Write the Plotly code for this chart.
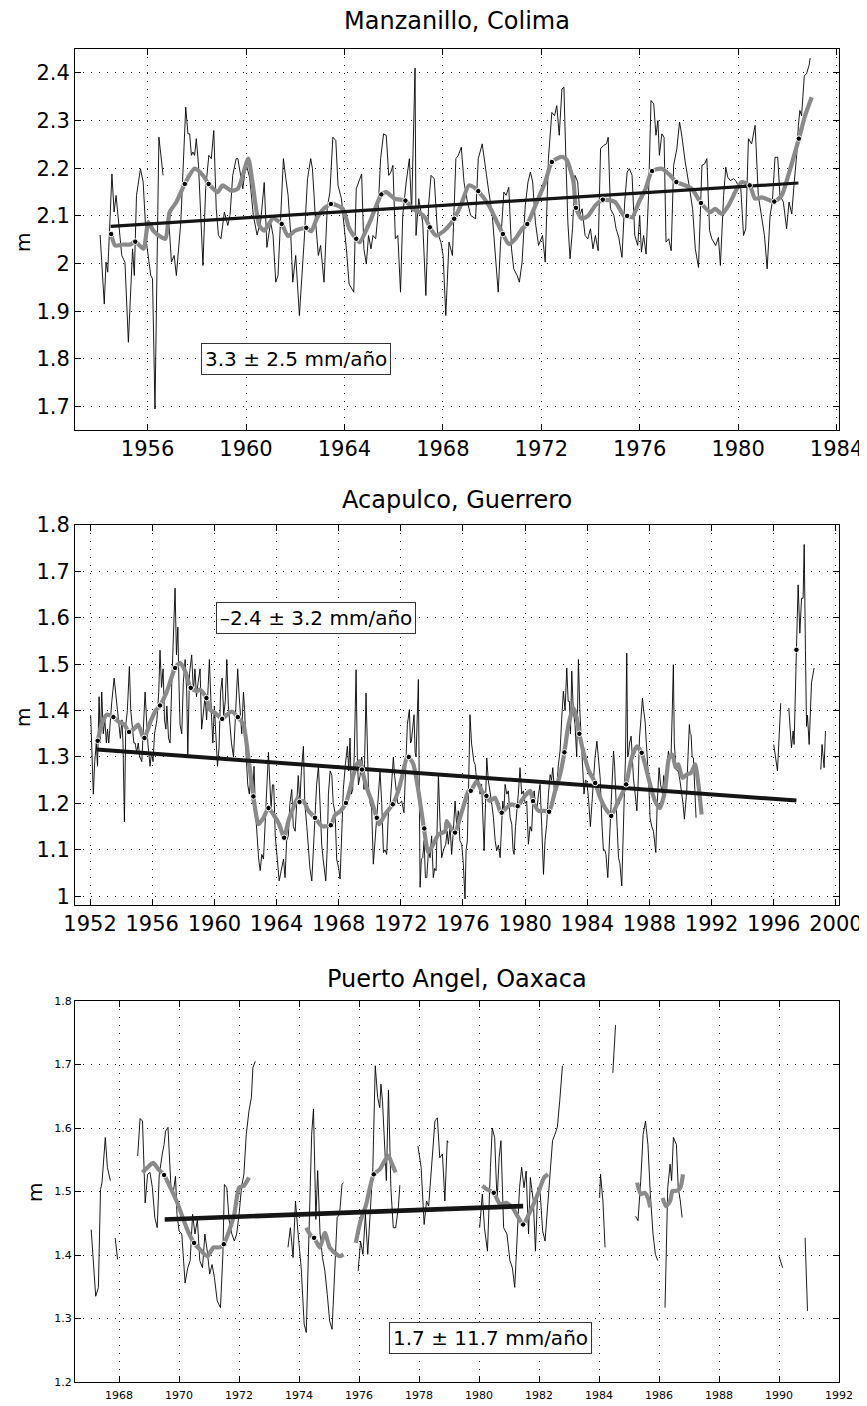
import plotly.graph_objects as go

# ---------------- Manzanillo, Colima ----------------
man_year = [1954.07, 1954.24, 1954.31, 1954.38, 1954.55, 1954.64, 1954.72, 1954.80, 1954.95, 1955.08,
            1955.22, 1955.39, 1955.46, 1955.55, 1955.71, 1955.82, 1955.95, 1956.13, 1956.20, 1956.30,
            1956.39, 1956.46, 1956.63, 1956.74, 1956.84, 1956.97, 1957.08, 1957.17, 1957.35, 1957.44,
            1957.55, 1957.64, 1957.71, 1957.78, 1957.84, 1957.91, 1957.98, 1958.07, 1958.15, 1958.25,
            1958.36, 1958.49, 1958.59, 1958.69, 1958.79, 1958.88, 1958.98, 1959.12, 1959.26, 1959.35,
            1959.46, 1959.60, 1959.67, 1959.76, 1959.87, 1960.00, 1960.15, 1960.30, 1960.45, 1960.60,
            1960.74, 1960.85, 1961.00, 1961.10, 1961.21, 1961.30, 1961.41, 1961.52, 1961.62, 1961.71,
            1961.82, 1961.90, 1962.02, 1962.17, 1962.36, 1962.50, 1962.63, 1962.70, 1962.83, 1962.94,
            1963.03, 1963.17, 1963.30, 1963.41, 1963.53, 1963.65, 1963.74, 1963.88, 1963.97, 1964.08,
            1964.19, 1964.28, 1964.38, 1964.48, 1964.59, 1964.70, 1964.79, 1964.89, 1964.98, 1965.08,
            1965.16, 1965.27, 1965.36, 1965.47, 1965.59, 1965.70, 1965.80, 1965.89, 1965.97, 1966.07,
            1966.17, 1966.28, 1966.37, 1966.51, 1966.64, 1966.73, 1966.87, 1966.91, 1967.02, 1967.18,
            1967.31, 1967.42, 1967.52, 1967.65, 1967.78, 1967.92, 1968.01, 1968.12, 1968.25, 1968.39,
            1968.53, 1968.63, 1968.75, 1968.86, 1969.00, 1969.13, 1969.33, 1969.44, 1969.60, 1969.71,
            1969.85, 1970.01, 1970.14, 1970.25, 1970.34, 1970.48, 1970.57, 1970.68, 1970.79, 1970.88,
            1971.02, 1971.11, 1971.22, 1971.35, 1971.46, 1971.56, 1971.65, 1971.76, 1971.89, 1972.05,
            1972.16, 1972.29, 1972.43, 1972.54, 1972.63, 1972.73, 1972.84, 1972.92, 1973.00, 1973.08,
            1973.17, 1973.27, 1973.37, 1973.48, 1973.57, 1973.66, 1973.78, 1973.89, 1974.00, 1974.10,
            1974.20, 1974.31, 1974.41, 1974.54, 1974.65, 1974.72, 1974.81, 1974.95, 1975.04, 1975.15,
            1975.28, 1975.39, 1975.49, 1975.58, 1975.69, 1975.80, 1975.92, 1976.00, 1976.07, 1976.16,
            1976.26, 1976.36, 1976.46, 1976.57, 1976.66, 1976.74, 1976.80, 1976.90, 1976.99, 1977.07,
            1977.18, 1977.28, 1977.38, 1977.51, 1977.62, 1977.72, 1977.85, 1977.95, 1978.03, 1978.15,
            1978.26, 1978.39, 1978.53, 1978.64, 1978.73, 1978.84, 1978.93, 1979.09, 1979.20, 1979.28,
            1979.41, 1979.50, 1979.58, 1979.69, 1979.81, 1979.90, 1980.00, 1980.11, 1980.22, 1980.31,
            1980.42, 1980.55, 1980.69, 1980.82, 1980.96, 1981.07, 1981.18, 1981.30, 1981.39, 1981.50,
            1981.61, 1981.70, 1981.84, 1981.97, 1982.07, 1982.18, 1982.28, 1982.38, 1982.45, 1982.51,
            1982.58, 1982.69, 1982.78, 1982.88, 1982.93]
man_level = [2.060, 1.915, 2.003, 1.982, 2.188, 2.108, 2.143, 2.101, 2.017, 2.003,
             1.835, 2.031, 1.975, 2.143, 2.199, 2.171, 2.045, 1.975, 1.968, 1.695,
             2.017, 2.265, 2.185, None, 2.108, 2.003, 2.017, 1.975, 2.087, 2.185,
             2.328, 2.272, 2.272, 2.227, 2.234, 2.227, 2.262, 2.206, 2.101, 1.996,
             2.157, 2.227, 2.220, 2.279, 2.115, 2.059, 2.052, 2.108, 2.080, 2.101,
             2.185, 2.220, 2.220, 2.192, 2.157, 2.210, 2.180, 2.100, 2.060, 2.090,
             2.170, 2.034, 2.087, 2.059, 1.961, 1.975, 2.087, 2.220, 2.178, 2.143,
             2.059, 1.961, 2.017, 1.891, 2.045, 2.178, 2.220, 2.199, 2.087, 2.017,
             2.038, 1.961, 2.115, 2.150, 2.265, 2.258, 2.164, 2.136, 2.087, 2.031,
             1.957, 1.950, 1.940, 2.157, 2.171, 2.188, 2.031, 1.999, 2.059, 2.031,
             2.059, 2.052, 2.101, 2.220, 2.272, 2.269, 2.185, 2.192, 2.206, 2.052,
             2.059, 1.940, 2.101, 2.171, 2.220, 2.108, 2.410, 2.059, 2.136, 2.087,
             1.933, 2.122, 2.185, 2.178, 2.066, 2.045, 2.017, 1.891, 2.045, 2.017,
             2.220, 2.227, 2.244, 2.171, 2.129, 2.101, 2.094, 2.220, 2.251, 2.206,
             2.157, 2.101, 2.017, 1.940, 2.038, 2.150, 2.143, 2.160, 2.031, 1.989,
             1.975, 1.961, 2.003, 2.122, 2.171, 2.192, 2.171, 2.087, 2.038, 2.059,
             2.003, 2.220, 2.317, 2.310, 2.331, 2.269, 2.366, 2.370, 2.220, 2.087,
             2.010, 2.073, 2.185, 2.171, 2.101, 2.115, 2.059, 2.052, 2.073, 2.031,
             2.059, 2.027, 2.241, 2.248, 2.251, 2.265, 2.115, 2.101, 2.073, 2.055,
             2.013, 2.129, 2.192, 2.199, 2.185, 2.059, 2.038, 2.101, 2.024, 2.059,
             2.020, 2.143, 2.342, 2.335, 2.269, 2.300, 2.227, 2.272, 2.265, 2.045,
             2.052, 2.027, 2.206, 2.241, 2.297, 2.265, 2.213, 2.185, 2.157, 2.115,
             2.031, 1.992, 2.206, 2.209, 2.220, 2.069, 2.052, 2.038, 2.055, 1.996,
             2.143, 2.202, 2.181, 2.174, 2.178, 2.174, 2.164, 2.157, 2.059, 2.073,
             2.262, 2.251, 2.290, 2.143, 2.101, 2.059, 1.989, 2.101, 2.129, 2.223,
             2.223, 2.143, 2.129, 2.073, 2.129, 2.104, 2.171, 2.227, 2.290, 2.321,
             2.310, 2.394, 2.398, 2.415, 2.431]
man_smooth_year = [1954.52, 1954.68, 1955.00, 1955.30, 1955.50, 1955.83, 1956.03, 1956.23, 1956.57, 1956.73,
                   1956.90, 1957.17, 1957.51, 1957.91, 1958.25, 1958.48, 1958.85, 1959.05, 1959.40, 1959.67,
                   1960.09, 1960.26, 1960.54, 1960.74, 1961.10, 1961.45, 1961.70, 1962.00, 1962.45, 1962.65,
                   1962.90, 1963.20, 1963.50, 1963.93, 1964.20, 1964.48, 1964.62, 1965.03, 1965.30, 1965.50,
                   1965.70, 1966.04, 1966.48, 1966.77, 1967.04, 1967.31, 1967.47, 1967.72, 1968.06, 1968.26,
                   1968.46, 1968.73, 1969.06, 1969.26, 1969.44, 1969.87, 1970.20, 1970.44, 1970.68, 1970.95,
                   1971.22, 1971.43, 1971.82, 1972.16, 1972.43, 1972.84, 1973.04, 1973.31, 1973.41, 1973.64,
                   1973.90, 1974.20, 1974.50, 1975.00, 1975.35, 1975.49, 1975.70, 1975.97, 1976.24, 1976.50,
                   1976.90, 1977.24, 1977.49, 1977.85, 1978.12, 1978.49, 1978.87, 1979.07, 1979.34, 1979.61,
                   1979.95, 1980.15, 1980.47, 1980.69, 1980.96, 1981.47, 1981.77, 1982.04, 1982.47, 1982.72,
                   1982.99]
man_smooth = [2.062, 2.038, 2.040, 2.040, 2.046, 2.031, 2.087, 2.069, 2.055, 2.052,
              2.108, 2.129, 2.167, 2.199, 2.185, 2.167, 2.150, 2.164, 2.153, 2.157,
              2.220, 2.171, 2.080, 2.069, 2.095, 2.083, 2.058, 2.069, 2.075, 2.068,
              2.097, 2.117, 2.125, 2.115, 2.073, 2.052, 2.045, 2.087, 2.122, 2.145,
              2.150, 2.136, 2.132, 2.115, 2.108, 2.094, 2.076, 2.059, 2.069, 2.080,
              2.094, 2.122, 2.164, 2.160, 2.152, 2.122, 2.087, 2.062, 2.041, 2.052,
              2.073, 2.083, 2.129, 2.171, 2.213, 2.224, 2.217, 2.171, 2.117, 2.094,
              2.100, 2.122, 2.134, 2.129, 2.101, 2.100, 2.097, 2.129, 2.157, 2.194,
              2.199, 2.185, 2.171, 2.164, 2.157, 2.127, 2.108, 2.115, 2.104, 2.122,
              2.157, 2.171, 2.164, 2.136, 2.139, 2.130, 2.143, 2.185, 2.262, 2.310,
              2.349]
man_dot_year = [1954.52, 1955.50, 1957.51, 1958.48, 1961.45, 1962.45, 1963.45, 1964.48, 1965.50, 1966.48,
                1967.47, 1968.46, 1969.44, 1970.44, 1971.43, 1972.43, 1973.41, 1974.50, 1975.49, 1976.50,
                1977.49, 1978.49, 1980.47, 1981.47, 1982.47]
man_dot = [2.062, 2.046, 2.167, 2.167, 2.083, 2.075, 2.125, 2.052, 2.145, 2.132,
           2.076, 2.094, 2.152, 2.062, 2.083, 2.213, 2.117, 2.134, 2.100, 2.194,
           2.171, 2.127, 2.164, 2.130, 2.262]
man_trend_year = [1954.50, 1982.45]
man_trend = [2.078, 2.169]
man_xticks = [1956, 1960, 1964, 1968, 1972, 1976, 1980, 1984]
man_yticks = [1.7, 1.8, 1.9, 2.0, 2.1, 2.2, 2.3, 2.4]
man_ylabels = ["1.7", "1.8", "1.9", "2", "2.1", "2.2", "2.3", "2.4"]

# ---------------- Acapulco, Guerrero ----------------
aca_year = [1952.04, 1952.12, 1952.21, 1952.30, 1952.40, 1952.48, 1952.58, 1952.66, 1952.75, 1952.85,
            1952.95, 1953.05, 1953.12, 1953.20, 1953.30, 1953.40, 1953.55, 1953.65, 1953.75, 1953.85,
            1953.95, 1954.05, 1954.12, 1954.21, 1954.30, 1954.40, 1954.53, 1954.62, 1954.72, 1954.82,
            1954.90, 1955.00, 1955.10, 1955.20, 1955.33, 1955.45, 1955.54, 1955.62, 1955.72, 1955.86,
            1955.95, 1956.05, 1956.15, 1956.30, 1956.42, 1956.50, 1956.60, 1956.70, 1956.79, 1956.88,
            1956.94, 1957.05, 1957.15, 1957.25, 1957.35, 1957.47, 1957.56, 1957.65, 1957.72, 1957.79,
            1957.90, 1958.00, 1958.12, 1958.22, 1958.29, 1958.40, 1958.54, 1958.65, 1958.75, 1958.85,
            1958.95, 1959.08, 1959.18, 1959.30, 1959.40, 1959.50, 1959.60, 1959.68, 1959.80, 1959.90,
            1960.00, 1960.10, 1960.20, 1960.30, 1960.40, 1960.50, 1960.60, 1960.70, 1960.80, 1960.90,
            1961.00, 1961.10, 1961.23, 1961.35, 1961.50, 1961.58, 1961.65, 1961.76, 1961.87, 1961.95,
            1962.05, 1962.15, 1962.25, 1962.35, 1962.45, 1962.55, 1962.65, 1962.75, 1962.85, 1962.95,
            1963.05, 1963.16, 1963.28, 1963.38, 1963.48, 1963.56, 1963.65, 1963.74, 1963.82, 1963.92,
            1964.00, 1964.10, 1964.17, 1964.27, 1964.34, 1964.45, 1964.55, 1964.65, 1964.76, 1964.86,
            1964.98, 1965.08, 1965.20, 1965.30, 1965.40, 1965.50, 1965.60, 1965.73, 1965.82, 1965.95,
            1966.05, 1966.15, 1966.27, 1966.37, 1966.48, 1966.58, 1966.70, 1966.80, 1966.91, 1967.00,
            1967.08, 1967.17, 1967.26, 1967.34, 1967.45, 1967.56, 1967.65, 1967.77, 1967.87, 1968.00,
            1968.09, 1968.20, 1968.30, 1968.42, 1968.56, 1968.65, 1968.73, 1968.82, 1968.90, 1969.00,
            1969.12, 1969.20, 1969.27, 1969.38, 1969.48, 1969.56, 1969.63, 1969.76, 1969.84, 1969.91,
            1970.02, 1970.12, 1970.23, 1970.34, 1970.45, 1970.56, 1970.66, 1970.77, 1970.88, 1970.98,
            1971.09, 1971.20, 1971.30, 1971.42, 1971.52, 1971.60, 1971.69, 1971.80, 1971.91, 1972.06,
            1972.20, 1972.32, 1972.42, 1972.55, 1972.62, 1972.68, 1972.76, 1972.85, 1972.92, 1972.98,
            1973.13, 1973.24, 1973.32, 1973.41, 1973.50, 1973.58, 1973.67, 1973.78, 1973.88, 1973.98,
            1974.09, 1974.18, 1974.27, 1974.35, 1974.42, 1974.52, 1974.63, 1974.75, 1974.89, 1974.98,
            1975.06, 1975.17, 1975.27, 1975.38, 1975.49, 1975.60, 1975.70, 1975.80, 1975.92, 1976.02,
            1976.13, 1976.20, 1976.28, 1976.37, 1976.45, 1976.55, 1976.63, 1976.70, 1976.78, 1976.88,
            1976.99, 1977.10, 1977.20, 1977.28, 1977.36, 1977.45, 1977.53, 1977.63, 1977.74, 1977.85,
            1977.96, 1978.07, 1978.17, 1978.28, 1978.39, 1978.47, 1978.56, 1978.63, 1978.71, 1978.82,
            1978.92, 1979.03, 1979.14, 1979.22, 1979.29, 1979.38, 1979.46, 1979.56, 1979.67, 1979.78,
            1979.89, 1980.00, 1980.10, 1980.21, 1980.32, 1980.42, 1980.50, 1980.58, 1980.66, 1980.75,
            1980.86, 1980.96, 1981.07, 1981.18, 1981.28, 1981.39, 1981.50, 1981.61, 1981.70, 1981.78,
            1981.90, 1982.03, 1982.13, 1982.25, 1982.35, 1982.46, 1982.57, 1982.68, 1982.77, 1982.85,
            1982.92, 1983.00, 1983.10, 1983.21, 1983.32, 1983.43, 1983.52, 1983.58, 1983.68, 1983.79,
            1983.88, 1983.97, 1984.08, 1984.20, 1984.30, 1984.40, 1984.50, 1984.62, 1984.72, 1984.83,
            1984.95, 1985.04, 1985.12, 1985.20, 1985.32, 1985.40, 1985.47, 1985.58, 1985.69, 1985.76,
            1985.84, 1985.92, 1986.01, 1986.10, 1986.22, 1986.30, 1986.39, 1986.46, 1986.54, 1986.60,
            1986.65, 1986.72, 1986.82, 1986.90, 1986.97, 1987.08, 1987.19, 1987.28, 1987.36, 1987.45,
            1987.55, 1987.63, 1987.72, 1987.80, 1987.87, 1987.95, 1988.04, 1988.15, 1988.26, 1988.34,
            1988.41, 1988.50, 1988.62, 1988.72, 1988.84, 1988.92, 1989.01, 1989.10, 1989.22, 1989.30,
            1989.39, 1989.47, 1989.54, 1989.60, 1989.69, 1989.78, 1989.86, 1989.96, 1990.07, 1990.16,
            1990.25, 1990.32, 1990.40, 1990.48, 1990.57, 1990.62, 1990.68, 1990.75, 1990.83, 1990.92,
            1991.00, 1993.50, 1996.00, 1996.24, 1996.45, 1996.70, 1996.97, 1997.14, 1997.25, 1997.31,
            1997.46, 1997.57, 1997.68, 1997.79, 1997.89, 1997.96, 1998.04, 1998.11, 1998.17, 1998.28,
            1998.43, 1998.60, 1998.80, 1999.03, 1999.11, 1999.24, 1999.33]
aca_level = [1.39, 1.30, 1.22, 1.29, 1.33, 1.28, 1.43, 1.33, 1.44, 1.35,
             1.38, 1.33, 1.36, 1.33, 1.38, 1.42, 1.47, 1.44, 1.40, 1.37,
             1.34, 1.38, 1.33, 1.16, 1.37, 1.40, 1.495, 1.40, 1.36, 1.33,
             1.33, 1.31, 1.33, 1.30, 1.29, 1.36, 1.44, 1.39, 1.33, 1.28,
             1.31, 1.29, 1.35, 1.38, 1.44, 1.53, 1.45, 1.49, 1.38, 1.36,
             1.41, 1.34, 1.33, 1.45, 1.53, 1.664, 1.52, 1.58, 1.46, 1.37,
             1.35, 1.46, 1.51, 1.44, 1.305, 1.48, 1.52, 1.44, 1.49, 1.43,
             1.46, 1.49, 1.36, 1.40, 1.43, 1.38, 1.46, 1.51, 1.40, 1.33,
             1.41, 1.35, 1.28, 1.32, 1.44, 1.47, 1.39, 1.42, 1.51, 1.41,
             1.36, 1.33, 1.30, 1.38, 1.49, 1.44, 1.40, 1.35, 1.44, 1.40,
             1.30, 1.24, 1.22, 1.26, 1.20, 1.28, 1.18, 1.12, 1.08, 1.055,
             1.09, 1.08, 1.16, 1.22, 1.31, 1.25, 1.19, 1.24, 1.24, 1.13,
             1.10, 1.06, 1.033, 1.05, 1.06, 1.08, 1.04, 1.12, 1.13, 1.20,
             1.23, 1.15, 1.14, 1.20, 1.26, 1.20, 1.27, 1.323, 1.20, 1.15,
             1.10, 1.06, 1.033, 1.10, 1.18, 1.24, 1.28, 1.20, 1.11, 1.08,
             1.05, 1.033, 1.10, 1.22, 1.27, 1.26, 1.20, 1.18, 1.08, 1.06,
             1.037, 1.15, 1.23, 1.28, 1.323, 1.27, 1.341, 1.22, 1.23, 1.30,
             1.488, 1.30, 1.24, 1.26, 1.30, 1.28, 1.23, 1.438, 1.30, 1.24,
             1.20, 1.19, 1.069, 1.12, 1.15, 1.22, 1.27, 1.20, 1.094, 1.10,
             1.09, 1.18, 1.19, 1.25, 1.30, 1.26, 1.23, 1.20, 1.20, 1.205,
             1.18, 1.30, 1.37, 1.402, 1.33, 1.334, 1.36, 1.391, 1.31, 1.30,
             1.467, 1.019, 1.08, 1.083, 1.12, 1.04, 1.04, 1.10, 1.083, 1.13,
             1.04, 1.06, 1.055, 1.15, 1.262, 1.16, 1.083, 1.10, 1.112, 1.14,
             1.112, 1.15, 1.09, 1.14, 1.205, 1.15, 1.184, 1.12, 1.112, 1.07,
             0.994, 1.10, 1.119, 1.25, 1.391, 1.33, 1.313, 1.29, 1.284, 1.25,
             1.255, 1.22, 1.241, 1.15, 1.098, 1.20, 1.298, 1.25, 1.227, 1.20,
             1.169, 1.12, 1.098, 1.11, 1.083, 1.15, 1.205, 1.18, 1.241, 1.22,
             1.227, 1.17, 1.155, 1.10, 1.09, 1.15, 1.176, 1.22, 1.277, 1.22,
             1.227, 1.20, 1.205, 1.112, 1.15, 1.14, 1.20, 1.227, 1.20, 1.184,
             1.22, 1.241, 1.15, 1.047, 1.12, 1.155, 1.22, 1.262, 1.25, 1.277,
             1.22, 1.227, 1.28, 1.313, 1.38, 1.442, 1.40, 1.492, 1.42, 1.42,
             1.35, 1.485, 1.40, 1.37, 1.30, 1.51, 1.40, 1.356, 1.30, 1.22,
             1.25, 1.248, 1.21, 1.15, 1.20, 1.25, 1.30, 1.334, 1.30, 1.255,
             1.15, 1.098, 1.10, 1.09, 1.04, 1.10, 1.169, 1.25, 1.313, 1.28,
             1.227, 1.15, 1.083, 1.07, 1.022, 1.15, 1.227, 1.30, 1.524, 1.30,
             1.305, 1.33, 1.345, 1.30, 1.255, 1.22, 1.184, 1.25, 1.341, 1.38,
             1.427, 1.40, 1.377, 1.33, 1.298, 1.25, 1.169, 1.15, 1.14, 1.12,
             1.094, 1.20, 1.277, 1.24, 1.22, 1.26, 1.241, 1.26, 1.313, 1.30,
             1.298, 1.40, 1.499, 1.33, 1.284, 1.27, 1.27, 1.25, 1.227, 1.20,
             1.166, 1.20, 1.227, 1.30, 1.37, 1.35, 1.348, 1.30, 1.298, 1.23,
             1.169, None, 1.327, 1.27, 1.416, None, 1.406, 1.32, 1.356, 1.327,
             1.531, 1.671, 1.567, 1.642, 1.642, 1.758, 1.53, 1.366, 1.39, 1.327,
             1.46, 1.492, None, 1.273, 1.327, 1.277, 1.356]
aca_smooth_year = [1952.49, 1952.75, 1953.07, 1953.50, 1953.80, 1954.20, 1954.51, 1954.90, 1955.10, 1955.43,
                   1955.50, 1955.90, 1956.20, 1956.50, 1956.94, 1957.47, 1957.79, 1958.12, 1958.48, 1958.87,
                   1959.08, 1959.49, 1959.72, 1960.05, 1960.50, 1960.80, 1961.12, 1961.51, 1961.87, 1962.19,
                   1962.51, 1962.84, 1963.16, 1963.48, 1963.80, 1964.17, 1964.49, 1964.76, 1965.08, 1965.36,
                   1965.48, 1965.73, 1966.05, 1966.48, 1966.91, 1967.49, 1967.77, 1968.10, 1968.47, 1968.85,
                   1969.16, 1969.37, 1969.50, 1969.80, 1970.12, 1970.45, 1970.62, 1970.98, 1971.48, 1971.84,
                   1972.06, 1972.38, 1972.51, 1972.81, 1973.13, 1973.45, 1973.77, 1974.09, 1974.42, 1974.85,
                   1974.95, 1975.20, 1975.49, 1975.81, 1976.13, 1976.35, 1976.50, 1976.89, 1977.20, 1977.51,
                   1977.74, 1978.06, 1978.38, 1978.49, 1978.81, 1979.14, 1979.52, 1979.89, 1980.32, 1980.51,
                   1980.85, 1981.28, 1981.54, 1981.93, 1982.25, 1982.53, 1982.79, 1983.11, 1983.32, 1983.49,
                   1983.85, 1984.10, 1984.51, 1984.83, 1985.15, 1985.47, 1985.54, 1986.01, 1986.33, 1986.50,
                   1986.86, 1987.19, 1987.50, 1987.72, 1988.04, 1988.36, 1988.68, 1989.00, 1989.26, 1989.48,
                   1989.69, 1989.86, 1990.12, 1990.40, 1990.68, 1990.94, 1991.15, 1991.36]
aca_smooth = [1.335, 1.370, 1.391, 1.386, 1.377, 1.370, 1.354, 1.363, 1.370, 1.341,
              1.341, 1.377, 1.399, 1.411, 1.441, 1.492, 1.503, 1.485, 1.449, 1.442,
              1.445, 1.427, 1.402, 1.395, 1.382, 1.391, 1.398, 1.386, 1.370, 1.298,
              1.215, 1.155, 1.169, 1.190, 1.176, 1.155, 1.126, 1.162, 1.191, 1.212,
              1.203, 1.205, 1.184, 1.169, 1.151, 1.153, 1.175, 1.183, 1.201, 1.248,
              1.284, 1.291, 1.273, 1.234, 1.205, 1.169, 1.155, 1.176, 1.198, 1.227,
              1.255, 1.298, 1.300, 1.284, 1.227, 1.155, 1.095, 1.112, 1.133, 1.140,
              1.162, 1.148, 1.137, 1.169, 1.205, 1.227, 1.227, 1.248, 1.227, 1.216,
              1.205, 1.212, 1.184, 1.180, 1.191, 1.198, 1.194, 1.212, 1.227, 1.205,
              1.184, 1.184, 1.182, 1.227, 1.262, 1.310, 1.370, 1.406, 1.384, 1.350,
              1.298, 1.270, 1.244, 1.212, 1.190, 1.176, 1.173, 1.205, 1.227, 1.241,
              1.298, 1.323, 1.309, 1.284, 1.241, 1.205, 1.190, 1.227, 1.298, 1.305,
              1.277, 1.284, 1.255, 1.262, 1.266, 1.284, 1.241, 1.176]
aca_dot_year = [1952.49, 1953.50, 1954.51, 1955.50, 1956.50, 1957.47, 1958.48, 1959.49, 1960.50, 1961.51,
                1962.51, 1963.48, 1964.49, 1965.48, 1966.48, 1967.49, 1968.47, 1969.50, 1970.45, 1971.48,
                1972.51, 1973.51, 1975.49, 1976.50, 1977.51, 1978.49, 1979.52, 1980.51, 1981.54, 1982.53,
                1983.49, 1984.51, 1985.54, 1986.50, 1987.50, 1997.46]
aca_dot = [1.335, 1.386, 1.354, 1.341, 1.411, 1.492, 1.449, 1.427, 1.382, 1.386,
           1.215, 1.190, 1.126, 1.203, 1.169, 1.153, 1.201, 1.273, 1.169, 1.198,
           1.300, 1.146, 1.137, 1.227, 1.216, 1.180, 1.194, 1.205, 1.182, 1.310,
           1.350, 1.244, 1.173, 1.241, 1.309, 1.531]
aca_trend_year = [1952.43, 1997.46]
aca_trend = [1.316, 1.206]
aca_xticks = [1952, 1956, 1960, 1964, 1968, 1972, 1976, 1980, 1984, 1988, 1992, 1996, 2000]
aca_yticks = [1.0, 1.1, 1.2, 1.3, 1.4, 1.5, 1.6, 1.7, 1.8]
aca_ylabels = ["1", "1.1", "1.2", "1.3", "1.4", "1.5", "1.6", "1.7", "1.8"]

# ---------------- Puerto Angel, Oaxaca ----------------
pa_year = [1967.07, 1967.22, 1967.31, 1967.38, 1967.43, 1967.54, 1967.61, 1967.71, 1967.79,
           1967.87, 1967.95, 1968.30,
           1968.62, 1968.70, 1968.78, 1968.87, 1968.95, 1969.03, 1969.11, 1969.19, 1969.27, 1969.34,
           1969.44, 1969.50, 1969.55, 1969.63, 1969.73, 1969.80, 1969.88, 1969.93, 1970.00, 1970.09,
           1970.20, 1970.29, 1970.37, 1970.45, 1970.53, 1970.61, 1970.69, 1970.78, 1970.86, 1970.94,
           1971.02, 1971.10, 1971.18, 1971.27, 1971.38, 1971.46, 1971.51, 1971.59, 1971.67, 1971.76,
           1971.84, 1971.92, 1972.00, 1972.08, 1972.16, 1972.24, 1972.33, 1972.41, 1972.46, 1972.54,
           1973.00,
           1973.63, 1973.71, 1973.80, 1973.88, 1973.96, 1974.07, 1974.17, 1974.24, 1974.33, 1974.42,
           1974.48, 1974.56, 1974.62, 1974.70, 1974.78, 1974.86, 1974.94, 1975.02, 1975.10, 1975.18,
           1975.27, 1975.35, 1975.43, 1975.48, 1975.70,
           1975.97, 1976.05, 1976.13, 1976.21, 1976.29, 1976.38, 1976.46, 1976.54, 1976.62, 1976.69,
           1976.73, 1976.78, 1976.85, 1976.91, 1976.98, 1977.06, 1977.14, 1977.22, 1977.31, 1977.36,
           1977.60,
           1977.96, 1978.07, 1978.17, 1978.25, 1978.32, 1978.42, 1978.53, 1978.61, 1978.69, 1978.78,
           1978.86, 1978.94, 1978.97, 1979.50,
           1980.02, 1980.11, 1980.18, 1980.28, 1980.38, 1980.44, 1980.52, 1980.60, 1980.67, 1980.73,
           1980.82, 1980.93, 1981.03, 1981.11, 1981.19, 1981.27, 1981.35, 1981.42, 1981.50, 1981.57,
           1981.65, 1981.71, 1981.81, 1981.88, 1981.96, 1982.04, 1982.12, 1982.20, 1982.29, 1982.37,
           1982.45, 1982.53, 1982.61, 1982.69, 1982.78, 1983.40,
           1984.02, 1984.05, 1984.13, 1984.20, 1984.33,
           1984.46, 1984.55, 1984.90,
           1985.22, 1985.30, 1985.39, 1985.47, 1985.55, 1985.63, 1985.71, 1985.80, 1985.88, 1985.96,
           1986.08,
           1986.20, 1986.29, 1986.37, 1986.42, 1986.48, 1986.58, 1986.64, 1986.71, 1986.77, 1988.00,
           1990.00, 1990.12, 1990.50,
           1990.87, 1990.95]
pa_level = [1.440, 1.335, 1.349, 1.503, 1.514, 1.585, 1.538, 1.517, None,
            1.427, 1.393, None,
            1.556, 1.615, 1.611, 1.482, 1.527, 1.530, 1.506, 1.459, 1.443, 1.527,
            1.559, 1.574, 1.595, 1.601, 1.506, 1.496, 1.524, 1.464, 1.438, 1.433,
            1.356, 1.380, 1.391, 1.464, 1.433, 1.456, 1.391, 1.380, 1.433, 1.406,
            1.370, 1.385, 1.364, 1.328, 1.317, 1.401, 1.511, 1.506, 1.454, 1.433,
            1.422, 1.433, 1.464, 1.506, 1.527, 1.590, 1.627, 1.648, 1.695, 1.705,
            None,
            1.412, 1.443, 1.396, 1.485, 1.438, 1.380, 1.291, 1.278, 1.433, 1.590,
            1.630, 1.456, 1.533, 1.433, 1.396, 1.375, 1.338, 1.296, 1.283, 1.380,
            1.459, 1.464, 1.511, 1.514, None,
            1.375, 1.422, 1.401, 1.464, 1.401, 1.475, 1.538, 1.698, 1.648, 1.632,
            1.669, 1.643, 1.564, 1.517, 1.660, 1.506, 1.443, 1.443, 1.475, 1.510,
            None,
            1.572, 1.538, 1.448, 1.485, 1.477, 1.548, 1.611, 1.616, 1.553, 1.559,
            1.485, 1.580, 1.577, None,
            1.443, 1.496, 1.443, 1.406, 1.538, 1.600, 1.585, 1.485, 1.553, 1.580,
            1.443, 1.433, 1.391, 1.380, 1.349, 1.433, 1.506, 1.538, 1.506, 1.532,
            1.433, 1.522, 1.485, 1.406, 1.506, 1.496, 1.438, 1.422, 1.480, 1.538,
            1.580, 1.590, 1.601, 1.643, 1.698, None,
            1.490, 1.527, 1.485, 1.412, None,
            1.687, 1.762, None,
            1.461, 1.454, 1.517, 1.590, 1.611, 1.574, 1.496, 1.433, 1.401, 1.391,
            None,
            1.317, 1.506, 1.543, 1.517, 1.585, 1.574, 1.506, 1.485, 1.459, None,
            1.398, 1.380, None,
            1.427, 1.312]
pa_smooth_year = [1968.78, 1968.95, 1969.14, 1969.31, 1969.50, 1969.71, 1969.96, 1970.12, 1970.29, 1970.50,
                  1970.69, 1970.94, 1971.15, 1971.35, 1971.49, 1971.67, 1971.84, 1972.00, 1972.16, 1972.33,
                  1973.00,
                  1974.24, 1974.40, 1974.50, 1974.69, 1974.86, 1975.02, 1975.18, 1975.35, 1975.48, 1975.70,
                  1975.89, 1976.05, 1976.24, 1976.36, 1976.49, 1976.69, 1976.85, 1976.98, 1977.10, 1977.22,
                  1978.50,
                  1980.11, 1980.28, 1980.49, 1980.70, 1980.90, 1981.11, 1981.31, 1981.47, 1981.71, 1981.96,
                  1982.17, 1982.30, 1984.00,
                  1985.27, 1985.39, 1985.52, 1985.63, 1985.71, 1985.90,
                  1986.12, 1986.23, 1986.37, 1986.45, 1986.58, 1986.71, 1986.80]
pa_smooth = [1.530, 1.538, 1.545, 1.535, 1.526, 1.506, 1.480, 1.459, 1.438, 1.419,
             1.409, 1.398, 1.412, 1.412, 1.417, 1.438, 1.464, 1.506, 1.509, 1.522,
             None,
             1.443, 1.430, 1.427, 1.412, 1.435, 1.412, 1.404, 1.398, 1.401, None,
             1.419, 1.454, 1.480, 1.506, 1.527, 1.535, 1.548, 1.556, 1.543, 1.530,
             None,
             1.509, 1.503, 1.498, 1.480, 1.482, 1.475, 1.459, 1.448, 1.469, 1.496,
             1.522, 1.527, None,
             1.514, 1.496, 1.498, 1.490, 1.475, None,
             1.490, 1.477, 1.485, 1.501, 1.501, 1.506, 1.527]
pa_dot_year = [1969.50, 1970.50, 1971.49, 1974.50, 1976.49, 1980.49, 1981.47]
pa_dot = [1.526, 1.419, 1.417, 1.427, 1.527, 1.498, 1.448]
pa_trend_year = [1969.52, 1981.47]
pa_trend = [1.456, 1.477]
pa_xticks = [1968, 1970, 1972, 1974, 1976, 1978, 1980, 1982, 1984, 1986, 1988, 1990, 1992]
pa_yticks = [1.2, 1.3, 1.4, 1.5, 1.6, 1.7, 1.8]
pa_ylabels = ["1.2", "1.3", "1.4", "1.5", "1.6", "1.7", "1.8"]

titles = ["Manzanillo, Colima", "Acapulco, Guerrero", "Puerto Angel, Oaxaca"]
rates = ["3.3 ± 2.5 mm/año", "–2.4 ± 3.2 mm/año", "1.7 ± 11.7 mm/año"]

# ---------------- figure ----------------
# The page body has an 8 px margin, so the figure is 8 px smaller than the window
# and every page-pixel position below is shifted by that offset.
OFF = 8
W, H = 867 - OFF, 1406 - OFF
FONT = "DejaVu Sans"
THIN = "#000000"
GREY = "#8a8a8a"

fig = go.Figure()

panels = [
    (man_year, man_level, man_smooth_year, man_smooth, man_dot_year, man_dot, man_trend_year, man_trend, 3.2),
    (aca_year, aca_level, aca_smooth_year, aca_smooth, aca_dot_year, aca_dot, aca_trend_year, aca_trend, 4.0),
    (pa_year, pa_level, pa_smooth_year, pa_smooth, pa_dot_year, pa_dot, pa_trend_year, pa_trend, 4.6),
]
for i, (ty, tv, sy, sv, dy, dv, ry, rv, tw) in enumerate(panels):
    xa = "x" if i == 0 else f"x{i+1}"
    ya = "y" if i == 0 else f"y{i+1}"
    fig.add_trace(go.Scatter(x=ty, y=tv, mode="lines", line=dict(color=THIN, width=0.9),
                             connectgaps=False, xaxis=xa, yaxis=ya, hoverinfo="skip"))
    fig.add_trace(go.Scatter(x=sy, y=sv, mode="lines", line=dict(color=GREY, width=4.2, shape="spline", smoothing=0.6),
                             connectgaps=False, xaxis=xa, yaxis=ya, hoverinfo="skip"))
    fig.add_trace(go.Scatter(x=ry, y=rv, mode="lines", line=dict(color="#151515", width=tw),
                             xaxis=xa, yaxis=ya, hoverinfo="skip"))
    fig.add_trace(go.Scatter(x=dy, y=dv, mode="markers",
                             marker=dict(color="black", size=5.5, line=dict(color="white", width=1)),
                             xaxis=xa, yaxis=ya, hoverinfo="skip"))

def fx(px):
    return (px - OFF) / W

def fy(py):
    return 1 - (py - OFF) / H

def px_dom_x(l, r):
    return [fx(l), fx(r)]

def px_dom_y(t, b):
    return [fy(b), fy(t)]

grid_dash = "1px,7px"

def xaxis(rng, ticks, fsize, anchor, dom, standoff=0):
    return dict(range=rng, tickvals=ticks, ticktext=[str(t) for t in ticks], domain=dom, anchor=anchor,
                showline=True, linecolor="black", linewidth=1, mirror="ticks", ticks="inside",
                ticklen=6, tickcolor="black", showgrid=True, gridcolor="black", gridwidth=1,
                griddash=grid_dash, zeroline=False, automargin=False, ticklabelstandoff=standoff,
                tickfont=dict(family=FONT, size=fsize, color="black"))

def yaxis(rng, ticks, labels, fsize, anchor, dom):
    return dict(range=rng, tickvals=ticks, ticktext=labels, domain=dom, anchor=anchor,
                showline=True, linecolor="black", linewidth=1, mirror="ticks", ticks="inside",
                ticklen=6, tickcolor="black", showgrid=True, gridcolor="black", gridwidth=1,
                griddash=grid_dash, zeroline=False, automargin=False,
                tickfont=dict(family=FONT, size=fsize, color="black"))

xd = px_dom_x(75, 839)
fig.update_layout(
    xaxis=xaxis([1953.05, 1984.1], man_xticks, 21, "y", xd),
    yaxis=yaxis([1.651, 2.45], man_yticks, man_ylabels, 21, "x", px_dom_y(49, 430)),
    xaxis2=xaxis([1951.03, 2000.2], aca_xticks, 21, "y2", xd),
    yaxis2=yaxis([0.981, 1.8], aca_yticks, aca_ylabels, 21, "x2", px_dom_y(525, 905)),
    xaxis3=xaxis([1966.53, 1992.0], pa_xticks, 11, "y3", xd, standoff=3),
    yaxis3=yaxis([1.2, 1.8], pa_yticks, pa_ylabels, 11, "x3", px_dom_y(1001, 1382)),
)

ann = []
title_y = [21, 500, 979]
for t, yy in zip(titles, title_y):
    ann.append(dict(text=t, x=fx(457), y=fy(yy), xref="paper", yref="paper", showarrow=False,
                    xanchor="center", yanchor="middle", font=dict(family=FONT, size=24, color="black")))
m_pos = [(23, 243), (23, 718), (35, 1193)]
for mx, my in m_pos:
    ann.append(dict(text="m", x=fx(mx), y=fy(my), xref="paper", yref="paper", showarrow=False,
                    textangle=-90, xanchor="center", yanchor="middle",
                    font=dict(family=FONT, size=20, color="black")))
box_pos = [("x", "y", 1962.05, 1.800), ("x2", "y2", 1966.51, 1.600), ("x3", "y3", 1980.37, 1.269)]
for r, (xr, yr, bx, by) in zip(rates, box_pos):
    ann.append(dict(text=r, x=bx, y=by, xref=xr, yref=yr, showarrow=False, xanchor="center", yanchor="middle",
                    bgcolor="white", bordercolor="#333333", borderwidth=1, borderpad=3,
                    font=dict(family=FONT, size=20, color="black")))

fig.update_layout(width=W, height=H, autosize=False,
                  margin=dict(l=0, r=0, t=0, b=0, pad=0, autoexpand=False),
                  paper_bgcolor="white", plot_bgcolor="white", showlegend=False, annotations=ann)

fig.write_html("out.html")
